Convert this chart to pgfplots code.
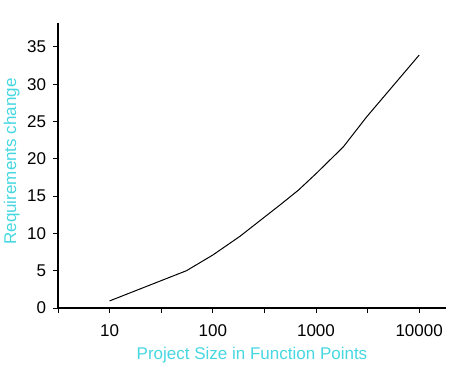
\documentclass[border=0pt]{standalone}
\usepackage{pgfplots}
\pgfplotsset{compat=1.18}
\usepackage{fontspec}
\setmainfont{Liberation Sans}
\definecolor{labcyan}{RGB}{70,215,225}
\begin{document}
\fontsize{17bp}{19bp}\selectfont
\begin{tikzpicture}
\path[use as bounding box] (-58bp,-62bp) rectangle (401bp,308bp);
\begin{axis}[
  scale only axis,
  width=388bp, height=285bp,
  xmode=log,
  xmin=3.1623, xmax=18200,
  ymin=0, ymax=38.2,
  axis x line=bottom, axis y line=left,
  axis line style={-, line width=1.1pt},
  xtick={3.1623,10,31.623,100,316.23,1000,3162.3,10000},
  xticklabels={,10,,100,,1000,,10000},
  ytick={0,5,10,15,20,25,30,35},
  tick align=outside,
  major tick length=5bp,
  tick style={black, line width=0.9pt},
  /pgf/number format/assume math mode=true,
  ticklabel style={font=\fontsize{17bp}{19bp}\selectfont},
  xticklabel style={yshift=-6bp},
  yticklabel style={xshift=-1bp},
  log ticks with fixed point,
  xlabel={Project Size in Function Points},
  ylabel={Requirements change},
  label style={font=\fontsize{17bp}{19bp}\selectfont, text=labcyan},
  xlabel style={yshift=1bp},
  ylabel style={yshift=-4bp, xshift=4bp},
  clip=false,
]
\addplot[black, line width=1pt, mark=none] coordinates {
(10,0.95)
(55.6,5.0)
(100,7.1)
(183,9.6)
(447,13.8)
(676,15.8)
(1000,18.0)
(1842,21.6)
(3090,25.6)
(10000,33.9)
};
\end{axis}
\end{tikzpicture}
\end{document}
